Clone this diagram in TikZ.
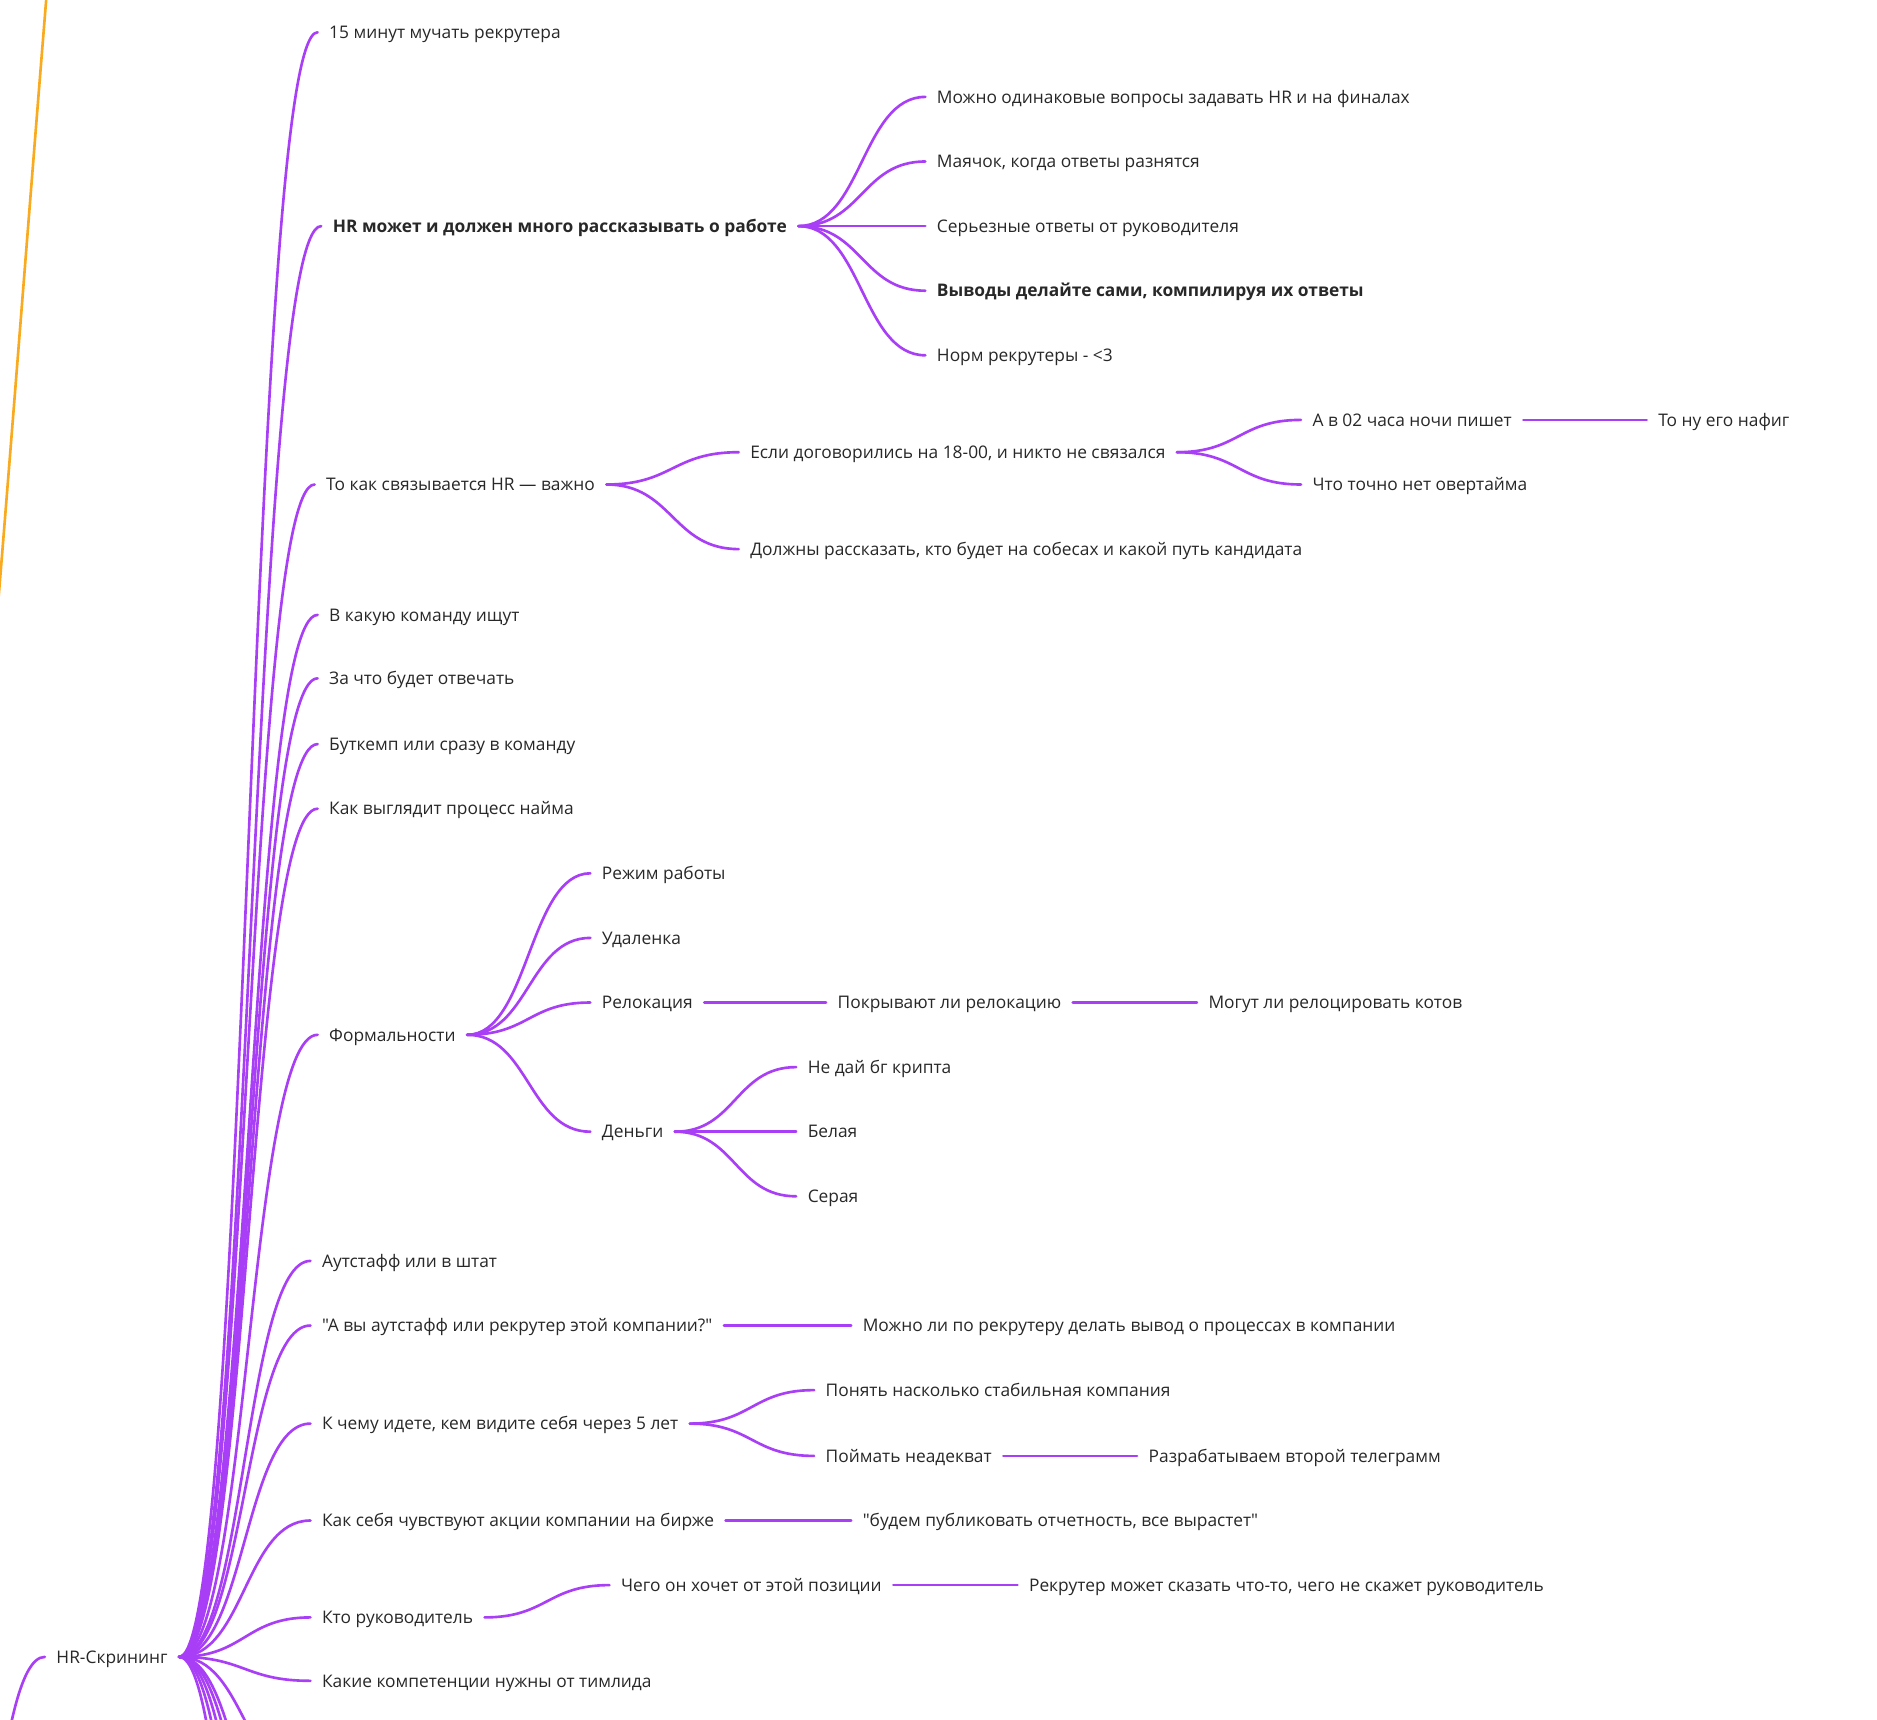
\documentclass[tikz,border=0pt]{standalone}
\usepackage{fontspec}
\setmainfont{Open Sans}[Ligatures=TeXOff]
\usetikzlibrary{calc}
\definecolor{vio}{RGB}{168,62,245}
\definecolor{org}{RGB}{250,170,30}
\definecolor{txt}{RGB}{40,40,40}
\newcommand{\fs}{\fontsize{14.5}{17}\selectfont}
\tikzset{
  t/.style={anchor=west, inner xsep=9.5pt, inner ysep=0pt, text height=10.4pt, text depth=0pt, font=\fs, text=txt},
  tb/.style={t, font=\fs\bfseries},
  mm/.style={to path={let \p1=(\tikztostart), \p2=(\tikztotarget) in .. controls ({(\x1+\x2)/2},\y1) and ({(\x1+\x2)/2},\y2) .. (\tikztotarget)}},
  br/.style={draw=vio, line width=2.2pt, line cap=round},
  ob/.style={draw=org, line width=2.2pt, line cap=round}
}
\begin{document}
\begin{tikzpicture}[x=1pt, y=-1pt]
\useasboundingbox (0,0) rectangle (1569,1437);
\clip (0,0) rectangle (1569,1437);
\fill[white] (0,0) rectangle (1569,1437);
% off-canvas ends
\coordinate (rootA) at (-50,1680);
\coordinate (rootB) at (-211,1700);
\coordinate (oend) at (250,-1220);
\coordinate (b1) at (260,1492);
\coordinate (b2) at (260,1612);
\coordinate (b3) at (260,1675);
\coordinate (b4) at (260,1772);
\coordinate (b5) at (260,1919);
\coordinate (b6) at (260,2170);
% hub
\node[t] (hub) at (37.5,1385) {HR-Скрининг};
% level 1
\node[t] (n1) at (265.5,27) {15 минут мучать рекрутера};
\node[tb] (n2) at (268.5,189) {HR может и должен много рассказывать о работе};
\node[t] (n3) at (263,405) {То как связывается HR — важно};
\node[t] (n4) at (265.5,514) {В какую команду ищут};
\node[t] (n5) at (265.5,567) {За что будет отвечать};
\node[t] (n6) at (265.5,622) {Буткемп или сразу в команду};
\node[t] (n7) at (265.5,676) {Как выглядит процесс найма};
\node[t] (n8) at (265.5,865) {Формальности};
\node[t] (n9) at (259.5,1054) {Аутстафф или в штат};
\node[t] (n10) at (259.5,1108) {"А вы аутстафф или рекрутер этой компании?"};
\node[t] (n11) at (259.5,1190) {К чему идете, кем видите себя через 5 лет};
\node[t] (n12) at (259.5,1271) {Как себя чувствуют акции компании на бирже};
\node[t] (n13) at (259.5,1352) {Кто руководитель};
\node[t] (n14) at (259.5,1405) {Какие компетенции нужны от тимлида};
% under n2
\node[t] (h1) at (773.5,81) {Можно одинаковые вопросы задавать HR и на финалах};
\node[t] (h2) at (773.5,135) {Маячок, когда ответы разнятся};
\node[t] (h3) at (773.5,189) {Серьезные ответы от руководителя};
\node[tb] (h4) at (773.5,243) {Выводы делайте сами, компилируя их ответы};
\node[t] (h5) at (773.5,297) {Норм рекрутеры - <3};
% under n3
\node[t] (e1) at (617.5,378) {Если договорились на 18-00, и никто не связался};
\node[t] (e2) at (617.5,459) {Должны рассказать, кто будет на собесах и какой путь кандидата};
\node[t] (e11) at (1087.5,351) {А в 02 часа ночи пишет};
\node[t] (e12) at (1087.5,405) {Что точно нет овертайма};
\node[t] (e111) at (1376.5,351) {То ну его нафиг};
% under n8
\node[t] (f1) at (493.5,730) {Режим работы};
\node[t] (f2) at (493.5,784) {Удаленка};
\node[t] (f3) at (493.5,838) {Релокация};
\node[t] (f4) at (493.5,946) {Деньги};
\node[t] (f31) at (690.5,838) {Покрывают ли релокацию};
\node[t] (f311) at (1000.5,838) {Могут ли релоцировать котов};
\node[t] (f41) at (665.5,892) {Не дай бг крипта};
\node[t] (f42) at (665.5,946) {Белая};
\node[t] (f43) at (665.5,1000) {Серая};
% others
\node[t] (g1) at (711.5,1108) {Можно ли по рекрутеру делать вывод о процессах в компании};
\node[t] (k1) at (680.5,1162) {Понять насколько стабильная компания};
\node[t] (k2) at (680.5,1217) {Поймать неадекват};
\node[t] (k21) at (950.5,1217) {Разрабатываем второй телеграмм};
\node[t] (a1) at (711.5,1271) {"будем публиковать отчетность, все вырастет"};
\node[t] (r1) at (509.5,1325) {Чего он хочет от этой позиции};
\node[t] (r11) at (850.5,1325) {Рекрутер может сказать что-то, чего не скажет руководитель};
% connectors
\draw[ob] (rootB) to[mm] (oend);
\draw[br] (rootA) to[mm] (hub.west);
\foreach \c in {n1,n2,n3,n4,n5,n6,n7,n8,n9,n10,n11,n12,n13,n14}
  \draw[br] (hub.east) to[mm] (\c.west);
\foreach \c in {b1,b2,b3,b4,b5,b6}
  \draw[br] (hub.east) to[mm] (\c);
\foreach \c in {h1,h2,h3,h4,h5}
  \draw[br] (n2.east) to[mm] (\c.west);
\draw[br] (n3.east) to[mm] (e1.west);
\draw[br] (n3.east) to[mm] (e2.west);
\draw[br] (e1.east) to[mm] (e11.west);
\draw[br] (e1.east) to[mm] (e12.west);
\draw[br] (e11.east) to[mm] (e111.west);
\foreach \c in {f1,f2,f3,f4}
  \draw[br] (n8.east) to[mm] (\c.west);
\draw[br] (f3.east) to[mm] (f31.west);
\draw[br] (f31.east) to[mm] (f311.west);
\foreach \c in {f41,f42,f43}
  \draw[br] (f4.east) to[mm] (\c.west);
\draw[br] (n10.east) to[mm] (g1.west);
\draw[br] (n11.east) to[mm] (k1.west);
\draw[br] (n11.east) to[mm] (k2.west);
\draw[br] (k2.east) to[mm] (k21.west);
\draw[br] (n12.east) to[mm] (a1.west);
\draw[br] (n13.east) to[mm] (r1.west);
\draw[br] (r1.east) to[mm] (r11.west);
\end{tikzpicture}
\end{document}
